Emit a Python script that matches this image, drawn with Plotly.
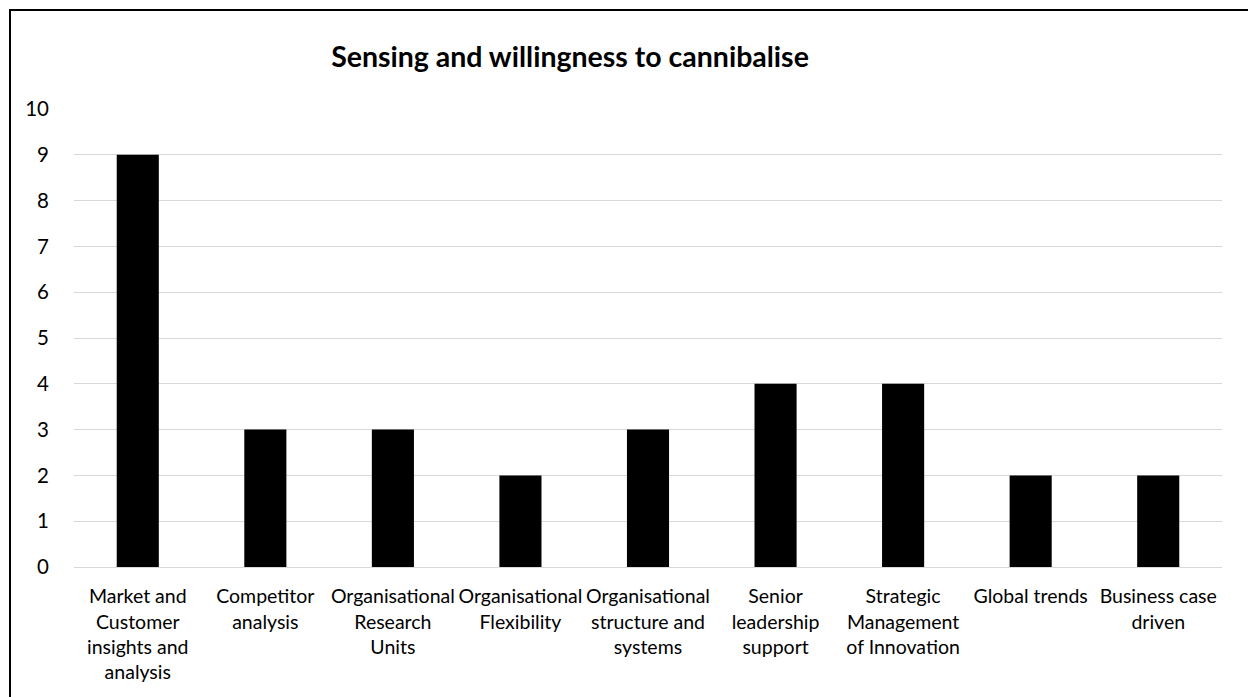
import plotly.graph_objects as go

# Factors and how often each was mentioned
categories = [
    "Market and<br>Customer<br>insights and<br>analysis",
    "Competitor<br>analysis",
    "Organisational<br>Research<br>Units",
    "Organisational<br>Flexibility",
    "Organisational<br>structure and<br>systems",
    "Senior<br>leadership<br>support",
    "Strategic<br>Management<br>of Innovation",
    "Global trends",
    "Business case<br>driven",
]
counts = [9, 3, 3, 2, 3, 4, 4, 2, 2]
y_ticks = list(range(0, 11))

FONT = "Lato"

fig = go.Figure(
    go.Bar(
        x=categories,
        y=counts,
        marker=dict(color="#000000", line=dict(width=0)),
        hoverinfo="x+y",
    )
)

fig.update_layout(
    width=1248,
    height=697,
    margin=dict(l=74, r=26, t=109, b=130),
    paper_bgcolor="white",
    plot_bgcolor="white",
    bargap=0.67,
    showlegend=False,
    font=dict(family=FONT, size=19, color="#000000"),
    title=dict(
        text="<b>Sensing and willingness to cannibalise</b>",
        x=570 / 1248,
        xanchor="center",
        y=1 - 57 / 697,
        yanchor="middle",
        font=dict(family=FONT, size=28.5, color="#000000"),
    ),
    xaxis=dict(
        type="category",
        showgrid=False,
        showline=True,
        linecolor="#d9d9d9",
        linewidth=1,
        ticks="",
        ticklabelstandoff=12,
        tickfont=dict(family=FONT, size=19.5, color="#000000"),
        tickangle=0,
    ),
    yaxis=dict(
        range=[0, 10],
        tickvals=y_ticks,
        showgrid=True,
        gridcolor="#d9d9d9",
        gridwidth=1,
        zeroline=False,
        showline=False,
        ticks="",
        ticklabelstandoff=24,
        tickfont=dict(family=FONT, size=20.5, color="#000000"),
    ),
    shapes=[
        # chart frame
        dict(
            type="rect",
            xref="paper",
            yref="paper",
            x0=(10 - 74) / 1148,
            x1=(1262 - 74) / 1148,
            y0=(567 - 712) / 458,
            y1=(567 - 10) / 458,
            line=dict(color="#000000", width=2),
            fillcolor="rgba(0,0,0,0)",
            layer="above",
        )
    ],
)

fig.write_html("out.html")
